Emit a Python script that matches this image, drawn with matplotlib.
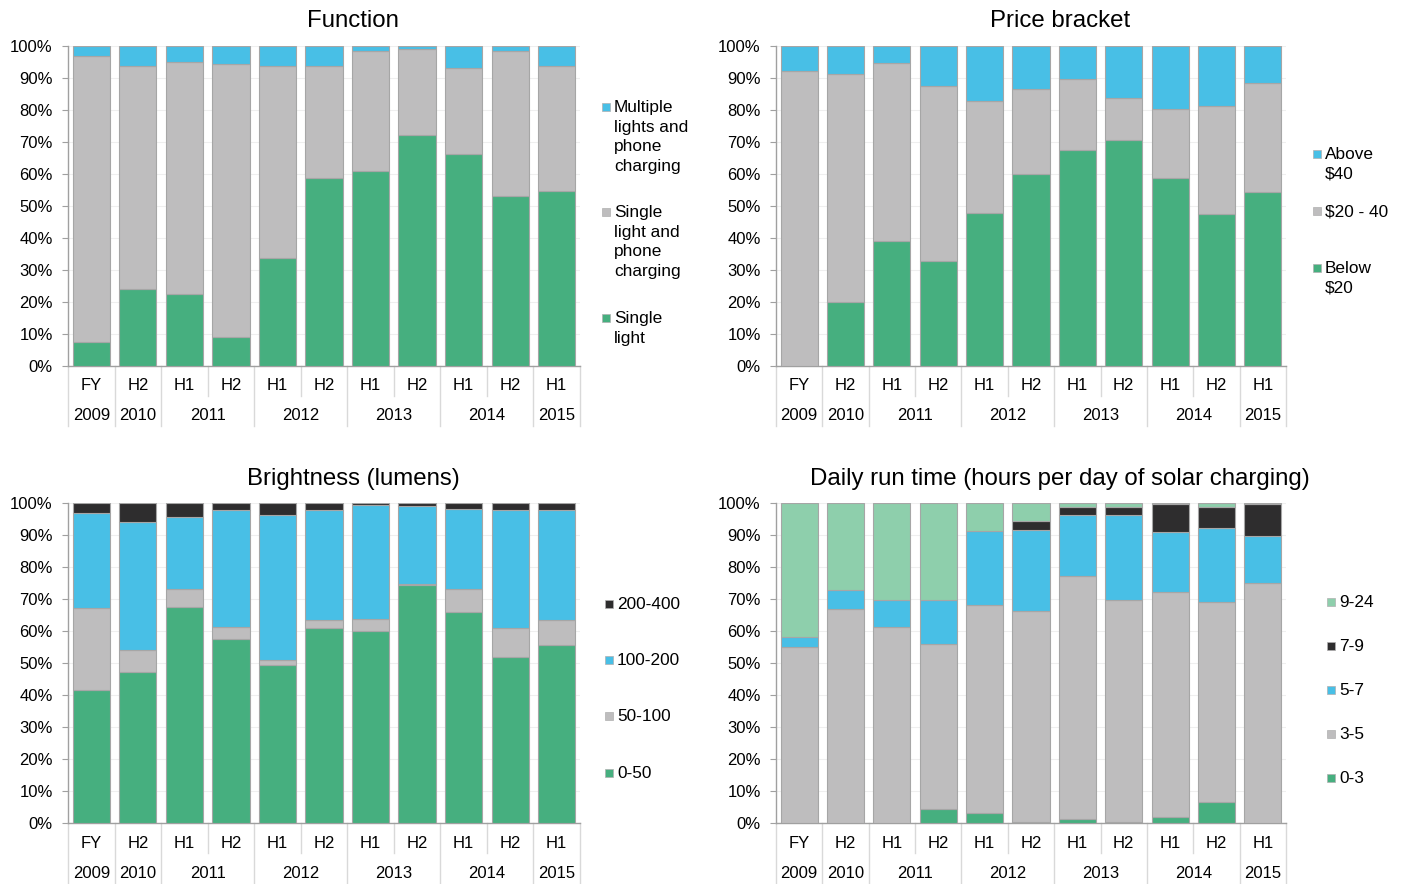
import numpy as np
import matplotlib
matplotlib.use("Agg")
import matplotlib.pyplot as plt
from matplotlib.patches import Rectangle
from matplotlib.lines import Line2D

plt.rcParams['font.family'] = ['Liberation Sans', 'DejaVu Sans']

# ---------------- data ----------------
periods = ['FY', 'H2', 'H1', 'H2', 'H1', 'H2', 'H1', 'H2', 'H1', 'H2', 'H1']
years = ['2009', '2010', '2011', '2012', '2013', '2014', '2015']
year_spans = [1, 1, 2, 2, 2, 2, 1]

# Function (%)
fn_single_light = [7.6, 24.2, 22.4, 9.2, 33.9, 58.8, 60.9, 72.3, 66.2, 53.2, 54.6]
fn_single_light_phone = [89.3, 69.7, 72.5, 85.2, 60.0, 35.0, 37.5, 26.7, 26.9, 45.2, 39.0]
fn_multiple = [3.1, 6.1, 5.1, 5.6, 6.1, 6.2, 1.6, 1.0, 6.9, 1.6, 6.4]
fn_labels = ['Single\nlight', 'Single\nlight and\nphone\ncharging', 'Multiple\nlights and\nphone\ncharging']

# Price bracket (%)
pr_below20 = [0.0, 20.1, 39.1, 32.8, 47.7, 60.1, 67.5, 70.7, 58.9, 47.5, 54.4]
pr_20_40 = [92.1, 71.3, 55.5, 54.6, 35.2, 26.5, 22.1, 13.2, 21.4, 33.6, 33.9]
pr_above40 = [7.9, 8.6, 5.4, 12.6, 17.1, 13.4, 10.4, 16.1, 19.7, 18.9, 11.7]
pr_labels = ['Below\n$20', '$20 - 40', 'Above\n$40']

# Brightness (%)
br_0_50 = [41.7, 47.2, 67.5, 57.5, 49.4, 61.0, 59.9, 74.5, 65.8, 51.9, 55.6]
br_50_100 = [25.6, 6.8, 5.6, 3.6, 1.6, 2.4, 3.7, 0.3, 7.2, 9.0, 7.9]
br_100_200 = [29.6, 40.0, 22.6, 36.8, 45.2, 34.4, 35.7, 24.4, 25.2, 36.9, 34.4]
br_200_400 = [3.1, 6.0, 4.3, 2.1, 3.8, 2.2, 0.7, 0.8, 1.8, 2.2, 2.1]
br_labels = ['0-50', '50-100', '100-200', '200-400']

# Daily run time (%)
rt_0_3 = [0.0, 0.0, 0.0, 4.4, 3.2, 0.4, 1.3, 0.4, 2.0, 6.7, 0.0]
rt_3_5 = [55.1, 66.9, 61.3, 51.4, 64.8, 66.0, 76.0, 69.3, 70.3, 62.3, 75.0]
rt_5_7 = [2.9, 6.0, 8.5, 14.0, 23.3, 25.1, 19.1, 26.4, 18.5, 23.3, 14.7]
rt_7_9 = [0.0, 0.0, 0.0, 0.0, 0.0, 2.9, 2.5, 2.8, 8.9, 6.6, 9.9]
rt_9_24 = [42.0, 27.1, 30.2, 30.2, 8.7, 5.6, 1.1, 1.1, 0.3, 1.1, 0.4]
rt_labels = ['0-3', '3-5', '5-7', '7-9', '9-24']

# ---------------- style ----------------
GREEN = '#46AF7F'
GRAY = '#BEBDBE'
BLUE = '#48BFE6'
DARK = '#2E2D2E'
LGREEN = '#8ECFAC'
EDGE = '#A6A6A6'
AXC = '#A0A0A0'
SEPC = '#D9D9D9'

W, H = 1404, 884
fig = plt.figure(figsize=(W / 100, H / 100), dpi=100)


def fx(x):
    return x / W


def fy(y):
    return 1 - y / H


def make_ax(l, t, r, b):
    return fig.add_axes([fx(l), fy(b), (r - l) / W, (b - t) / H])


def draw_panel(ax, series, colors, axh=320):
    x = np.arange(len(periods))
    bottom = np.zeros(len(periods))
    for vals, c in zip(series, colors):
        vals = np.array(vals, dtype=float)
        lw = [0.8 if v > 0 else 0 for v in vals]
        ax.bar(x, vals, bottom=bottom, width=0.8, color=c, edgecolor=EDGE,
               linewidth=lw, zorder=3)
        bottom += vals
    ax.set_xlim(-0.5, len(periods) - 0.5)
    ax.set_ylim(0, 100)
    ax.set_yticks(range(0, 101, 10))
    ax.set_yticklabels([f'{v}%' for v in range(0, 101, 10)])
    ax.tick_params(axis='y', length=4, color=AXC, pad=7, labelsize=12)
    ax.tick_params(axis='x', bottom=False, labelbottom=False)
    for s in ['top', 'right']:
        ax.spines[s].set_visible(False)
    for s in ['left', 'bottom']:
        ax.spines[s].set_color(AXC)
        ax.spines[s].set_linewidth(1.0)
    ax.yaxis.grid(True, color='#EFEFEF', linewidth=0.8, zorder=0)
    ax.set_axisbelow(True)

    trans = ax.get_xaxis_transform()
    for i, lab in enumerate(periods):
        ax.text(i, -20 / axh, lab, transform=trans, ha='center', va='center',
                fontsize=12, color='#000000')
    start = 0
    bounds = {0}
    for yr, sp in zip(years, year_spans):
        c = start + (sp - 1) / 2
        ax.text(c, -50 / axh, yr, transform=trans, ha='center', va='center',
                fontsize=12, color='#000000')
        start += sp
        bounds.add(start)
    for k in range(len(periods) + 1):
        length = 60 if k in bounds else 30
        ax.add_line(Line2D([k - 0.5, k - 0.5], [0, -length / axh], transform=trans,
                           color=SEPC, linewidth=1.0, clip_on=False))


def draw_legend(labels, colors, mx, ys, tx, fs=12.4):
    for lab, c, y in zip(labels, colors, ys):
        fig.patches.append(Rectangle((fx(mx), fy(y + 4)), 8 / W, 8 / H,
                                     transform=fig.transFigure, facecolor=c,
                                     edgecolor='#B0B0B0', linewidth=0.5))
        fig.text(fx(tx), fy(y - 7), lab, ha='left', va='top', fontsize=fs,
                 linespacing=1.38, color='#000000')


# Function
ax1 = make_ax(68, 46, 580, 366)
draw_panel(ax1, [fn_single_light, fn_single_light_phone, fn_multiple], [GREEN, GRAY, BLUE])
draw_legend(fn_labels[::-1], [BLUE, GRAY, GREEN], 602, [107, 212, 318], 614)

# Price bracket
ax2 = make_ax(776, 46, 1286, 366)
draw_panel(ax2, [pr_below20, pr_20_40, pr_above40], [GREEN, GRAY, BLUE])
draw_legend(pr_labels[::-1], [BLUE, GRAY, GREEN], 1313, [154, 211, 268], 1325)

# Brightness
ax3 = make_ax(68, 503, 580, 823)
draw_panel(ax3, [br_0_50, br_50_100, br_100_200, br_200_400], [GREEN, GRAY, BLUE, DARK])
draw_legend(br_labels[::-1], [DARK, BLUE, GRAY, GREEN], 605, [604, 660, 716, 773], 617)

# Daily run time
ax4 = make_ax(776, 503, 1286, 823)
draw_panel(ax4, [rt_0_3, rt_3_5, rt_5_7, rt_7_9, rt_9_24], [GREEN, GRAY, BLUE, DARK, LGREEN])
draw_legend(rt_labels[::-1], [LGREEN, DARK, BLUE, GRAY, GREEN], 1327,
            [602, 646, 690, 734, 778], 1339)

# Titles
TFS = 17.3
fig.text(fx(353), fy(21), 'Function', ha='center', va='center', fontsize=TFS)
fig.text(fx(1060), fy(21), 'Price bracket', ha='center', va='center', fontsize=TFS)
fig.text(fx(353), fy(479), 'Brightness (lumens)', ha='center', va='center', fontsize=TFS)
fig.text(fx(1060), fy(479), 'Daily run time (hours per day of solar charging)',
         ha='center', va='center', fontsize=TFS)

fig.savefig('out.png', dpi=100, facecolor='white')
